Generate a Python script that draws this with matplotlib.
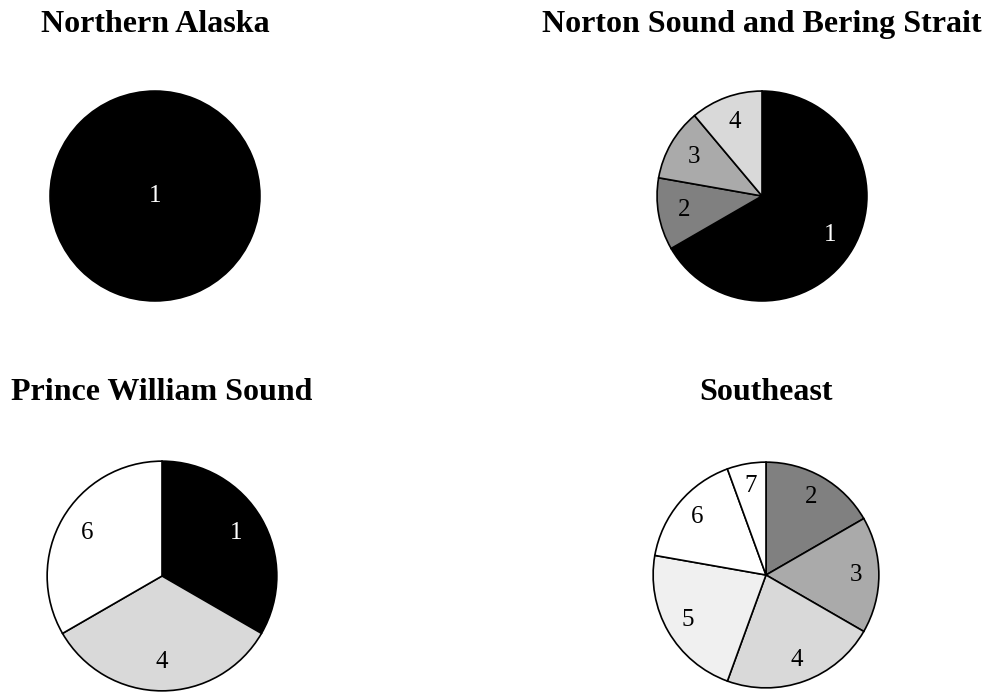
import matplotlib.pyplot as plt

plt.rcParams['font.family'] = ['Liberation Serif', 'DejaVu Serif']

# =============================================================================
# DATA
# =============================================================================

REGIONS = ['Northern Alaska', 'Norton Sound and Bering Strait',
           'Prince William Sound', 'Southeast']

na_labels = ['1']
na_counts = [1]

nsbs_labels = ['1', '2', '3', '4']
nsbs_counts = [6, 1, 1, 1]

pws_labels = ['1', '4', '6']
pws_counts = [1, 1, 1]

se_labels = ['2', '3', '4', '5', '6', '7']
se_counts = [3, 3, 4, 4, 3, 1]

CATEGORY_COLORS = {
    '1': '#000000',
    '2': '#808080',
    '3': '#aaaaaa',
    '4': '#d9d9d9',
    '5': '#f0f0f0',
    '6': '#ffffff',
    '7': '#ffffff',
}

# =============================================================================

W, H = 987, 692

# (centre x, centre y, radius, title baseline y) in pixels, top-left origin
PANELS = [
    (155, 196, 106, 32),
    (762, 196, 106, 32),
    (162, 576, 116, 400),
    (766, 575, 114, 400),
]


def draw_pie(fig, labels, counts, title, cx, cy, r, ty, labeldist):
    ax = fig.add_axes([(cx - r) / W, 1 - (cy + r) / H, 2 * r / W, 2 * r / H])
    colors = [CATEGORY_COLORS[c] for c in labels]
    _, texts = ax.pie(
        counts,
        labels=labels,
        colors=colors,
        startangle=90,
        counterclock=False,
        radius=1,
        labeldistance=labeldist,
        wedgeprops=dict(edgecolor='black', linewidth=1.2),
        textprops=dict(ha='center', va='center', fontsize=18),
    )
    for t, lab in zip(texts, labels):
        t.set_color('white' if lab == '1' else 'black')
    ax.set_xlim(-1.01, 1.01)
    ax.set_ylim(-1.01, 1.01)
    ax.set_aspect('equal')
    ax.axis('off')
    fig.text(cx / W, 1 - ty / H, title, ha='center', va='baseline',
             fontsize=23, fontweight='bold')


def main():
    fig = plt.figure(figsize=(W / 100, H / 100), dpi=100)
    data = [
        (na_labels, na_counts, 0.0),
        (nsbs_labels, nsbs_counts, 0.75),
        (pws_labels, pws_counts, 0.75),
        (se_labels, se_counts, 0.8),
    ]
    for (labels, counts, ld), title, (cx, cy, r, ty) in zip(data, REGIONS, PANELS):
        draw_pie(fig, labels, counts, title, cx, cy, r, ty, ld)

    plt.savefig('out.png', dpi=100)
    plt.close()


if __name__ == '__main__':
    main()
